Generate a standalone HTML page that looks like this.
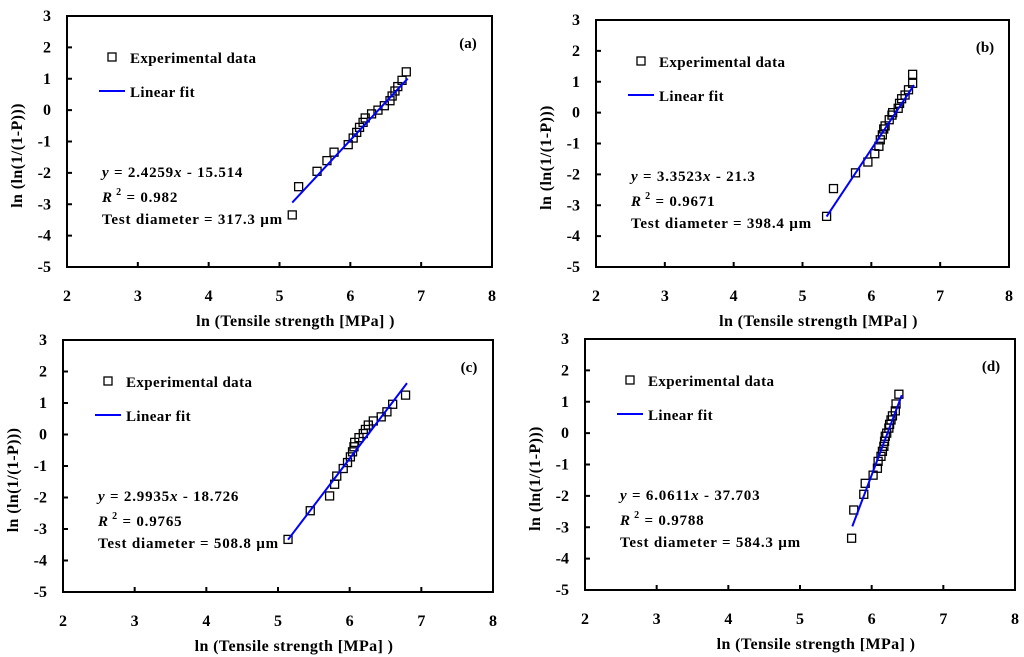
<!DOCTYPE html>
<html><head><meta charset="utf-8">
<style>
html,body{margin:0;padding:0;background:#fff;}
svg{display:block;font-family:"Liberation Serif","Times New Roman",serif;font-weight:bold;}
</style></head>
<body>
<svg id="fig" width="1024" height="657" viewBox="0 0 1024 657" xmlns="http://www.w3.org/2000/svg"></svg>
<script>
const xTicks=[2,3,4,5,6,7,8];
const yTicks=[3,2,1,0,-1,-2,-3,-4,-5];
const panelLabels=["(a)","(b)","(c)","(d)"];
const eqTexts=["2.4259","3.3523","2.9935","6.0611"];
const eqIntercepts=["15.514","21.3","18.726","37.703"];
const r2Texts=["0.982","0.9671","0.9765","0.9788"];
const diamTexts=["317.3 µm","398.4 µm"," 508.8 µm","584.3 µm"];
const slopes=[2.4259,3.3523,2.9935,6.0611];
const intercepts=[-15.514,-21.3,-18.726,-37.703];
const fitMin=[5.18,5.35,5.14,5.73];
const fitMax=[6.81,6.62,6.80,6.42];
const xA=[5.18,5.27,5.53,5.67,5.77,5.97,6.04,6.09,6.13,6.18,6.21,6.30,6.39,6.48,6.56,6.59,6.63,6.67,6.73,6.79];
const yA=[-3.34,-2.44,-1.95,-1.61,-1.34,-1.10,-0.89,-0.71,-0.55,-0.39,-0.25,-0.12,0,0.14,0.30,0.45,0.61,0.75,0.95,1.22];
const xB=[5.35,5.45,5.77,5.95,6.05,6.11,6.13,6.16,6.18,6.20,6.26,6.30,6.31,6.39,6.41,6.44,6.49,6.54,6.60,6.60];
const yB=[-3.36,-2.46,-1.95,-1.60,-1.33,-1.09,-0.88,-0.72,-0.53,-0.43,-0.23,-0.08,0,0.14,0.30,0.45,0.57,0.74,0.95,1.24];
const xC=[5.14,5.45,5.72,5.79,5.82,5.91,5.97,6.01,6.04,6.06,6.07,6.13,6.19,6.22,6.26,6.33,6.44,6.52,6.60,6.78];
const yC=[-3.33,-2.42,-1.95,-1.58,-1.32,-1.08,-0.89,-0.71,-0.55,-0.39,-0.25,-0.10,0.03,0.16,0.30,0.43,0.56,0.72,0.96,1.25];
const xD=[5.72,5.75,5.89,5.91,6.02,6.08,6.09,6.13,6.15,6.17,6.18,6.19,6.21,6.24,6.25,6.27,6.29,6.33,6.34,6.38];
const yD=[-3.35,-2.45,-1.95,-1.60,-1.34,-1.12,-0.90,-0.74,-0.58,-0.42,-0.26,-0.10,0,0.16,0.28,0.42,0.55,0.71,0.93,1.24];
const seriesX=[xA,xB,xC,xD], seriesY=[yA,yB,yC,yD];
const boxes=[{L:67,T:16,R:492,B:267},{L:596,T:20,R:1009,B:267},{L:63,T:340,R:493,B:592},{L:585,T:339,R:1015,B:590}];
const NS="http://www.w3.org/2000/svg";
const svg=document.getElementById('fig');
function mk(tag,attrs,parent,text){const e=document.createElementNS(NS,tag);for(const k in attrs)e.setAttribute(k,attrs[k]);if(text!==undefined)e.textContent=text;parent.appendChild(e);return e;}
boxes.forEach((b,i)=>{
  const g=mk('g',{},svg);
  
  
  const sx=v=>b.L+(v-2)/6*(b.R-b.L);
  const sy=v=>b.T+(3-v)/8*(b.B-b.T);
  const frame=mk('rect',{x:b.L,y:b.T,width:b.R-b.L,height:b.B-b.T,fill:'none',stroke:'#000','stroke-width':2},g);
  
  
  xTicks.forEach(t=>{
    const tk=mk('line',{x1:sx(t),x2:sx(t),y1:b.B,y2:b.B-5,stroke:'#000','stroke-width':2},g);
    
    
    const tl=mk('text',{x:sx(t),y:b.B+34,'text-anchor':'middle','font-size':16},g,String(t));
    
    
  });
  yTicks.forEach(t=>{
    const tk=mk('line',{x1:b.L,x2:b.L+5,y1:sy(t),y2:sy(t),stroke:'#000','stroke-width':2},g);
    
    
    const tl=mk('text',{x:b.L-16,y:sy(t)+5,'text-anchor':'end','font-size':16},g,String(t));
    
    
  });
  const xt=mk('text',{x:(b.L+b.R)/2+16,y:b.B+59,'text-anchor':'middle','font-size':16,'letter-spacing':0.4},g,'ln (Tensile strength [MPa] )');
  
  
  const cy=(b.T+b.B)/2+14;
  const yt=mk('text',{x:b.L-45,y:cy,'text-anchor':'middle','font-size':16,'letter-spacing':0.4,transform:`rotate(-90 ${b.L-45} ${cy})`},g,'ln (ln(1/(1-P)))');
  
  
  const pl=mk('text',{x:b.R-24,y:b.T+32,'text-anchor':'middle','font-size':15},g,panelLabels[i]);
  
  
  const lm=mk('rect',{x:b.L+41,y:b.T+37,width:8,height:8,fill:'none',stroke:'#000','stroke-width':1.3},g);
  
  
  const le=mk('text',{x:b.L+63,y:b.T+47,'font-size':15,'letter-spacing':0.4},g,'Experimental data');
  
  
  const ll=mk('line',{x1:b.L+32,x2:b.L+58,y1:b.T+75,y2:b.T+75,stroke:'#0000ff','stroke-width':2},g);
  
  
  const lt=mk('text',{x:b.L+63,y:b.T+81,'font-size':15,'letter-spacing':0.4},g,'Linear fit');
  
  
  const eq=mk('text',{x:b.L+35,y:b.T+161,'font-size':15,'letter-spacing':0.8},g);
  
  
  mk('tspan',{'font-style':'italic'},eq,'y');
  mk('tspan',{},eq,' = '+eqTexts[i]);
  mk('tspan',{'font-style':'italic'},eq,'x');
  mk('tspan',{},eq,'  - '+eqIntercepts[i]);
  const r2=mk('text',{x:b.L+35,y:b.T+186,'font-size':15,'letter-spacing':0.8},g);
  
  
  mk('tspan',{'font-style':'italic'},r2,'R');
  mk('tspan',{dy:-7,'font-size':10},r2,' 2');
  mk('tspan',{dy:7},r2,' = '+r2Texts[i]);
  const dt=mk('text',{x:b.L+35,y:b.T+208,'font-size':15,'letter-spacing':0.8},g,'Test diameter = '+diamTexts[i]);
  
  
  seriesX[i].forEach((xv,j)=>{
    const m=mk('rect',{x:sx(xv)-4,y:sy(seriesY[i][j])-4,width:8,height:8,fill:'none',stroke:'#000','stroke-width':1.3},g);
    
    
  });
  const f=mk('line',{x1:sx(fitMin[i]),y1:sy(slopes[i]*fitMin[i]+intercepts[i]),x2:sx(fitMax[i]),y2:sy(slopes[i]*fitMax[i]+intercepts[i]),stroke:'#0000ff','stroke-width':2},g);
  
  
});
</script>
</body></html>
